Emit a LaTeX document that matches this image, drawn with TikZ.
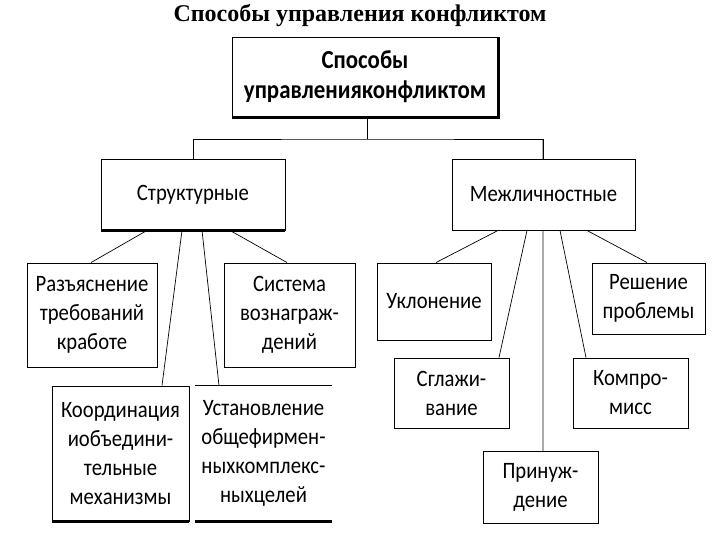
\documentclass[tikz,border=0pt]{standalone}
\usepackage{fontspec}
\setmainfont{Carlito}[FakeStretch=0.88]
\newfontfamily\titlefont{Liberation Serif}
\begin{document}
\begin{tikzpicture}[x=1pt,y=-1pt,
  box/.style={draw=black,line width=0.9pt,fill=white,align=center,inner sep=0pt,
    font=\fontsize{23.5}{29}\selectfont},
  conn/.style={draw=black,line width=0.7pt},
  heavy/.style={draw=black,line width=2.2pt}]
\useasboundingbox (0,0) rectangle (720,540);
\node[font=\titlefont\bfseries\fontsize{24}{28}\selectfont] (title) at (360,16) {Способы управления конфликтом};
\coordinate (j) at (367,139);
\node[box,minimum width=266pt,minimum height=80pt,font=\bfseries\fontsize{26}{30}\selectfont] (top) at (365,77) {Способы\\управленияконфликтом};
\draw[line width=1.6pt,draw=gray!65] (543,139) -- (543,451);
\node[box,minimum width=184pt,minimum height=71pt] (str) at (193,194.5) {Структурные};
\node[box,minimum width=183pt,minimum height=71pt] (mezh) at (543.5,194.5) {Межличностные};
\node[box,minimum width=130pt,minimum height=104pt] (razj) at (92,315) {Разъяснение\\требований\\кработе};
\node[box,minimum width=131pt,minimum height=104pt] (sist) at (289.5,315) {Система\\вознаграж-\\дений};
\node[box,minimum width=137pt,minimum height=135pt] (koord) at (120.5,453.5) {Координация\\иобъедини-\\тельные\\механизмы};
\node[box,draw=none,minimum width=137pt,minimum height=135pt] (ustan) at (263.5,453.5) {Установление\\общефирмен-\\ныхкомплекс-\\ныхцелей};
\node[box,minimum width=114pt,minimum height=77pt] (uklon) at (434,301.5) {Уклонение};
\node[box,minimum width=113pt,minimum height=71pt] (resh) at (648.5,298.5) {Решение\\проблемы};
\node[box,minimum width=115pt,minimum height=70pt] (sglaz) at (451.5,393) {Сглажи-\\вание};
\node[box,minimum width=115pt,minimum height=70pt] (kompr) at (630.5,393) {Компро-\\мисс};
\node[box,minimum width=115pt,minimum height=72pt] (prin) at (540.5,487) {Принуж-\\дение};
\draw[heavy] (top.south west) -- (top.south east) -- (top.north east);
\draw[heavy] (str.south west) -- (str.south east);
\draw[heavy] (koord.south west) -- (koord.south east);
\draw[line width=0.9pt] (ustan.north west) -- (ustan.north east);
\draw[heavy] (ustan.south west) -- (ustan.south east);
\draw[conn] (top.south -| j) -- (j);
\draw[conn] (str.north) |- (j) -| (mezh.north);
\draw[conn] ([xshift=-46pt]str.south) -- ([xshift=-1pt]razj.north);
\draw[conn] ([xshift=-11pt]str.south) -- ([xshift=41.5pt]koord.north);
\draw[conn] ([xshift=9pt]str.south) -- ([xshift=-44.5pt]ustan.north);
\draw[conn] ([xshift=37pt]str.south) -- ([xshift=-2.5pt]sist.north);
\draw[conn] ([xshift=-45.5pt]mezh.south) -- ([xshift=2pt]uklon.north);
\draw[conn] ([xshift=-16.5pt]mezh.south) -- ([xshift=47.5pt]sglaz.north);
\draw[conn] ([xshift=16.5pt]mezh.south) -- ([xshift=-44.5pt]kompr.north);
\draw[conn] ([xshift=43.5pt]mezh.south) -- ([xshift=-1.5pt]resh.north);
\end{tikzpicture}
\end{document}
